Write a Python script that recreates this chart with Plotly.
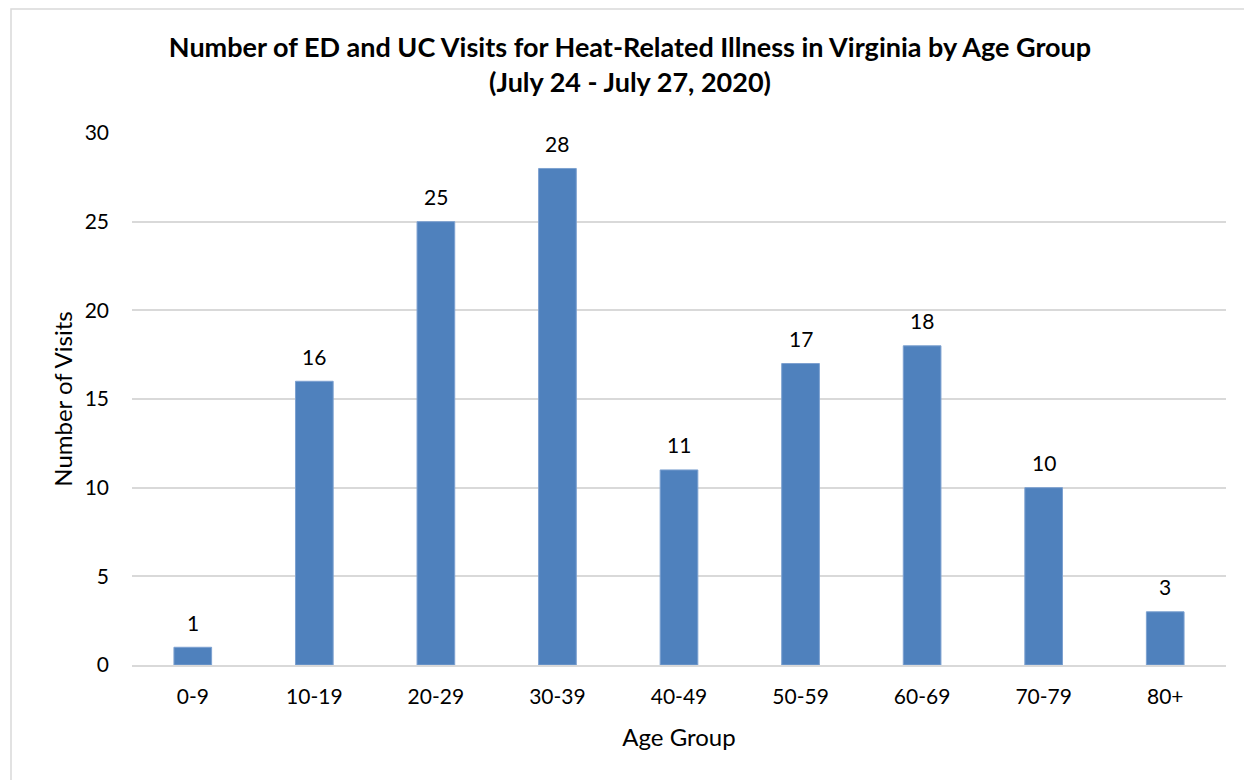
import plotly.graph_objects as go

age_groups = ["0-9", "10-19", "20-29", "30-39", "40-49", "50-59", "60-69", "70-79", "80+"]
visits = [1, 16, 25, 28, 11, 17, 18, 10, 3]
y_ticks = [0, 5, 10, 15, 20, 25, 30]

FONT = "Lato"

fig = go.Figure()
fig.add_trace(go.Bar(
    x=age_groups, y=visits,
    marker=dict(color="#4F81BD", line=dict(color="#7DA1D0", width=1)),
))

annotations = [
    dict(x=a, y=v, xref="x", yref="y", text=str(v), showarrow=False,
         yanchor="middle", yshift=25, font=dict(family=FONT, size=21, color="#000000"))
    for a, v in zip(age_groups, visits)
]

fig.update_layout(
    width=1244, height=772,
    margin=dict(l=124, r=26, t=125, b=115),
    paper_bgcolor="white", plot_bgcolor="white",
    bargap=0.69,
    showlegend=False,
    title=dict(
        text="<b>Number of ED and UC Visits for Heat-Related Illness in Virginia by Age Group<br>(July 24 - July 27, 2020)</b>",
        x=0.5, xanchor="center", y=0.937, yanchor="top",
        font=dict(family=FONT, size=27, color="#000000"),
    ),
    font=dict(family=FONT, size=21, color="#000000"),
    xaxis=dict(
        title=dict(text="Age Group", font=dict(size=24), standoff=22),
        showline=True, linecolor="#D9D9D9", linewidth=2,
        tickfont=dict(size=21), ticks="", ticklabelstandoff=12,
    ),
    yaxis=dict(
        title=dict(text="Number of Visits", font=dict(size=24), standoff=5),
        range=[0, 30], tickvals=y_ticks,
        showgrid=True, gridcolor="#D9D9D9", gridwidth=1.5,
        zeroline=False, tickfont=dict(size=21), ticks="", ticklabelstandoff=22,
    ),
    annotations=annotations,
    shapes=[dict(type="rect", xref="paper", yref="paper",
                 x0=-0.1106, x1=1.2, y0=-0.5, y1=1.233,
                 line=dict(color="#D9D9D9", width=1.5), fillcolor="rgba(0,0,0,0)")],
)

fig.write_html("out.html")
